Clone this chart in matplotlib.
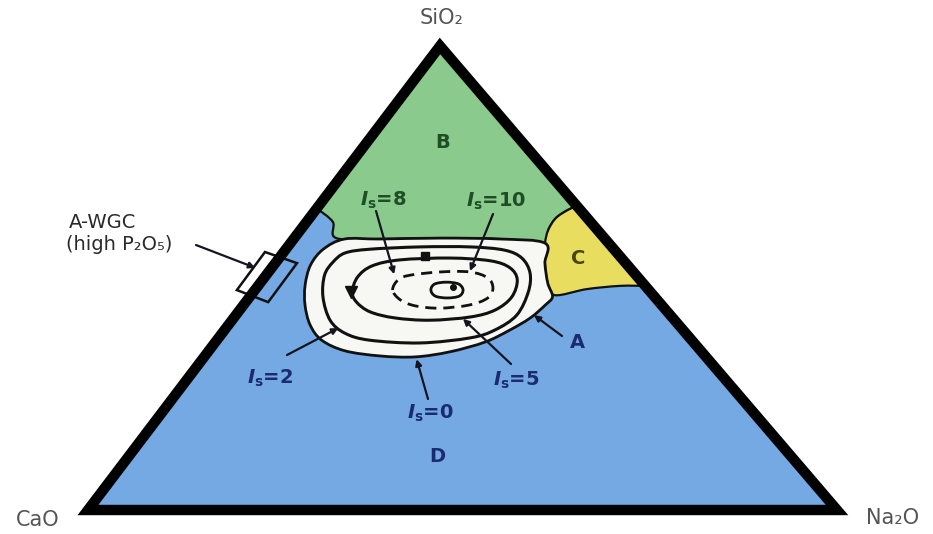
import numpy as np
import matplotlib.pyplot as plt
from matplotlib.path import Path
from matplotlib.patches import PathPatch, Polygon

plt.rcParams['font.family'] = ['DejaVu Sans']
plt.rcParams['mathtext.fontset'] = 'custom'
plt.rcParams['mathtext.it'] = 'DejaVu Sans:italic:bold'
plt.rcParams['mathtext.rm'] = 'DejaVu Sans:bold'

# compositions in wt% given as (SiO2, Na2O); CaO makes up the rest
region_b = [(65.0, 0.0), (62.1, 3.5), (58.6, 5.6), (58.4, 11.5), (58.6, 19.5),
            (58.4, 27.6), (57.5, 34.0), (60.3, 33.1), (62.9, 32.9), (64.7, 33.7),
            (65.5, 34.5)]
region_c = [(65.5, 34.5), (64.7, 33.7), (62.9, 32.9), (60.3, 33.1), (57.5, 34.0),
            (53.2, 36.0), (48.9, 38.4), (46.3, 40.6), (47.6, 44.2), (48.3, 48.3),
            (48.3, 51.7)]
region_a = [(58.4, 6.8), (58.4, 11.5), (58.6, 19.5), (58.4, 27.6), (57.5, 34.0),
            (53.2, 36.0), (48.9, 38.4), (46.0, 40.4), (44.2, 40.3), (41.4, 39.6),
            (38.8, 38.1), (36.2, 36.0), (34.1, 32.3), (33.0, 28.2), (33.2, 23.4),
            (34.3, 18.2), (36.6, 14.0), (39.9, 10.9), (44.2, 8.2), (48.5, 6.2),
            (52.8, 4.9), (56.2, 5.0)]

# iso-bioactivity lines
is2 = [(45.9, 9.8), (50.6, 7.8), (53.4, 7.6), (55.4, 8.3), (56.2, 11.2), (56.7, 17.7),
       (56.7, 24.4), (56.0, 29.3), (54.3, 32.4), (51.1, 35.0), (47.0, 36.7),
       (42.0, 37.5), (38.8, 36.1), (37.1, 33.6), (36.0, 27.4), (36.6, 20.4),
       (38.1, 16.4), (40.9, 13.1)]
is5 = [(47.0, 13.2), (50.2, 12.4), (52.6, 13.2), (53.9, 16.3), (54.3, 22.8),
       (53.7, 28.5), (52.2, 31.8), (49.6, 34.0), (45.9, 35.0), (43.1, 34.1),
       (41.6, 31.5), (40.9, 26.4), (41.4, 21.5), (42.7, 17.6), (44.8, 14.8)]
is8 = [(47.4, 18.4), (49.6, 18.1), (50.6, 19.2), (51.3, 22.9), (51.3, 26.9),
       (50.0, 29.9), (47.8, 31.6), (45.7, 31.9), (44.2, 30.2), (43.5, 26.5),
       (44.0, 23.0), (45.3, 20.4)]
is10 = [(47.4, 23.5), (48.7, 23.4), (49.1, 24.8), (48.7, 26.6), (47.4, 27.8),
        (46.1, 27.9), (45.7, 26.5), (46.1, 24.7)]

wgc_box = [(55.6, -2.5), (53.2, 2.9), (44.8, 3.0), (47.4, -2.4)]
square_mark = (54.7, 19.3)
centre_mark = (48.1, 26.1)
flow_mark = (47.0, 13.2)

# where each leader line points
tip_is8 = (50.8, 17.0)
tip_is10 = (51.5, 26.8)
tip_is2 = (39.2, 15.0)
tip_is5 = (41.2, 30.7)
tip_is0 = (32.5, 28.6)
tip_a = (42.0, 39.8)
tip_wgc = (52.2, -2.2)

# page position (px) of the SiO2, CaO and Na2O corners
TOP, LEFT, RIGHT = (440, 46), (88, 510), (837, 510)

BLUE, GREEN, YELLOW, WHITE = '#74a9e3', '#8aca8c', '#e8dd5e', '#f7f7f4'
NAVY, DGREEN, OLIVE = '#1b2c6e', '#1f4d26', '#4a4314'


def tern(pts):
    p = np.atleast_2d(np.asarray(pts, float)) / 100
    s, n = p[:, 0], p[:, 1]
    c = 1 - s - n
    x = c * LEFT[0] + n * RIGHT[0] + s * TOP[0]
    y = c * LEFT[1] + n * RIGHT[1] + s * TOP[1]
    return np.column_stack([x, y])


def smooth(xy, closed):
    # Catmull-Rom through the points, written as cubic Bezier segments
    n = len(xy)
    verts, codes = [xy[0]], [Path.MOVETO]
    for i in range(n if closed else n - 1):
        p0 = xy[(i - 1) % n] if (closed or i > 0) else xy[0]
        p1 = xy[i]
        p2 = xy[(i + 1) % n]
        p3 = xy[(i + 2) % n] if (closed or i + 2 < n) else xy[-1]
        verts += [p1 + (p2 - p0) / 6, p2 - (p3 - p1) / 6, p2]
        codes += [Path.CURVE4] * 3
    return verts, codes


def region(pts, corners=(), closed=False, **kw):
    verts, codes = smooth(tern(pts), closed)
    for c in corners:
        verts.append(tern(c)[0])
        codes.append(Path.LINETO)
    verts.append(verts[0])
    codes.append(Path.CLOSEPOLY)
    ax.add_patch(PathPatch(Path(verts, codes), **kw))


def loop(pts, **kw):
    verts, codes = smooth(tern(pts), True)
    ax.add_patch(PathPatch(Path(verts, codes), fill=False, color='#111111',
                           capstyle='butt', **kw))


def leader(tip, tail, color='#15151f'):
    ax.annotate('', xy=tern(tip)[0], xytext=tail,
                arrowprops=dict(arrowstyle='-|>', color=color, lw=1.6,
                                mutation_scale=9, shrinkA=0, shrinkB=0))


fig = plt.figure(figsize=(9.33, 5.34), dpi=100)
ax = fig.add_axes([0, 0, 1, 1])
ax.set_xlim(0, 933)
ax.set_ylim(534, 0)
ax.axis('off')

corners = tern([(100, 0), (0, 0), (0, 100)])
ax.add_patch(Polygon(corners, closed=True, facecolor=BLUE, edgecolor='none'))
region(region_b, corners=[(100, 0)], facecolor=GREEN, edgecolor='#111111', lw=1.6)
region(region_c, facecolor=YELLOW, edgecolor='#111111', lw=1.6)
region(region_a, closed=True, facecolor=WHITE, edgecolor='#111111', lw=2.0)

loop(is2, lw=2.2)
loop(is5, lw=2.2)
loop(is8, lw=2.0, linestyle=(0, (4, 2.5)))
loop(is10, lw=2.0)

sx, sy = tern(square_mark)[0]
ax.plot(sx, sy, 's', color='#111111', ms=6)
cx, cy = tern(centre_mark)[0]
ax.plot(cx, cy, 'o', color='#111111', ms=4)
fx, fy = tern(flow_mark)[0]
ax.plot(fx - 1, fy, 'v', color='#111111', ms=8)

ax.add_patch(Polygon(tern(wgc_box), closed=True, fill=False, edgecolor='#111111',
                     lw=1.8, zorder=3))

ax.add_patch(Polygon(corners, closed=True, fill=False, edgecolor='black', lw=7.5,
                     joinstyle='miter', zorder=4))

# corner labels
ax.text(442, 18, 'SiO₂', ha='center', va='center', fontsize=15, color='#555555')
ax.text(38, 520, 'CaO', ha='center', va='center', fontsize=15, color='#555555')
ax.text(893, 518, 'Na₂O', ha='center', va='center', fontsize=15, color='#555555')

# region letters
ax.text(443, 142, 'B', ha='center', va='center', fontsize=14, fontweight='bold', color=DGREEN)
ax.text(578, 258, 'C', ha='center', va='center', fontsize=14, fontweight='bold', color=OLIVE)
ax.text(437, 457, 'D', ha='center', va='center', fontsize=14, fontweight='bold', color=NAVY)
ax.text(577, 342, 'A', ha='center', va='center', fontsize=14, fontweight='bold', color=NAVY)
leader(tip_a, (562, 336))

iso = r'$I_\mathrm{s}$'
ax.text(383, 200, iso + '=8', ha='center', va='center', fontsize=14, fontweight='bold', color=DGREEN)
ax.text(496, 201, iso + '=10', ha='center', va='center', fontsize=14, fontweight='bold', color=DGREEN)
ax.text(270, 378, iso + '=2', ha='center', va='center', fontsize=14, fontweight='bold', color=NAVY)
ax.text(516, 380, iso + '=5', ha='center', va='center', fontsize=14, fontweight='bold', color=NAVY)
ax.text(430, 413, iso + '=0', ha='center', va='center', fontsize=14, fontweight='bold', color=NAVY)
leader(tip_is8, (376, 211))
leader(tip_is10, (493, 214))
leader(tip_is2, (287, 355))
leader(tip_is5, (511, 364))
leader(tip_is0, (428, 399))

ax.text(103, 222, 'A-WGC', ha='center', va='center', fontsize=14, color='#2a2a2a')
ax.text(119, 245, '(high P₂O₅)', ha='center', va='center', fontsize=14, color='#2a2a2a')
leader(tip_wgc, (196, 245))

fig.savefig('out.png', dpi=100)
